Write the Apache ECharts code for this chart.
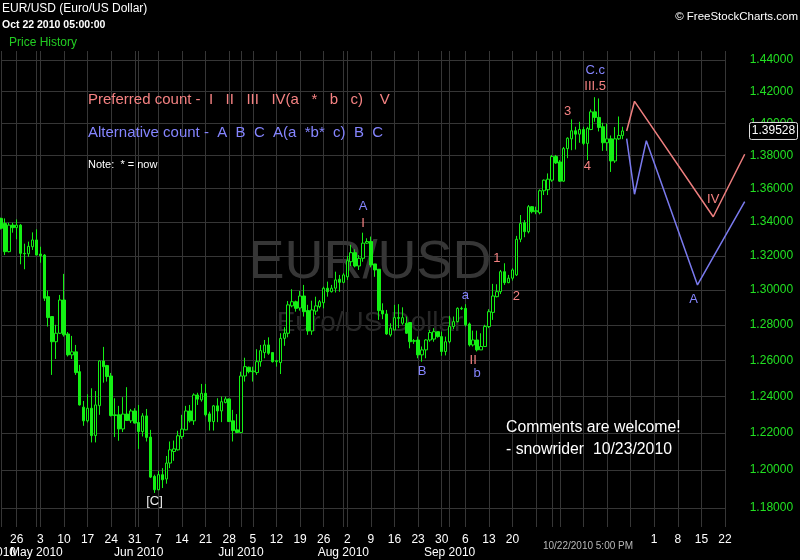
<!DOCTYPE html>
<html><head><meta charset="utf-8">
<script src="https://cdn.jsdelivr.net/npm/echarts@6/dist/echarts.min.js"></script>
<style>html,body{margin:0;padding:0;background:#000;}#c{width:800px;height:560px;}</style>
</head><body><div id="c"></div>
<script>
// ---------- data ----------
const yTicks = [1.18,1.20,1.22,1.24,1.26,1.28,1.30,1.32,1.34,1.36,1.38,1.40,1.42,1.44];
const firstDay = '2010-04-21';
const lastDay = '2010-11-28';
// daily candles (Sun-Fri sessions) from 2010-04-21: [open, close, low, high]
const ohlc = [
[1.3421,1.3362,1.3355,1.3425],[1.3391,1.3224,1.3204,1.3421],[1.3224,1.3381,1.3220,1.3395],[1.3381,1.3366,1.3336,1.3395],
[1.3366,1.3381,1.3297,1.3415],[1.3381,1.3214,1.3150,1.3387],[1.3214,1.3212,1.3121,1.3271],[1.3212,1.3255,1.3194,1.3283],
[1.3253,1.3293,1.3234,1.3338],[1.3293,1.3204,1.3204,1.3356],[1.3210,1.3200,1.3159,1.3253],[1.3204,1.2953,1.2937,1.3210],
[1.2962,1.2842,1.2791,1.2997],[1.2848,1.2705,1.2519,1.2850],[1.2705,1.2753,1.2608,1.2801],[1.2753,1.2943,1.2750,1.2972],
[1.2943,1.2744,1.2734,1.3094],[1.2749,1.2631,1.2622,1.2760],[1.2631,1.2648,1.2608,1.2738],[1.2648,1.2532,1.2519,1.2687],
[1.2537,1.2353,1.2350,1.2575],[1.2341,1.2266,1.2239,1.2375],[1.2266,1.2335,1.2257,1.2412],[1.2335,1.2186,1.2149,1.2445],
[1.2186,1.2353,1.2149,1.2430],[1.2349,1.2597,1.2299,1.2600],[1.2597,1.2565,1.2476,1.2676],[1.2571,1.2510,1.2482,1.2575],
[1.2513,1.2295,1.2290,1.2530],[1.2295,1.2299,1.2178,1.2390],[1.2299,1.2222,1.2158,1.2348],[1.2222,1.2303,1.2205,1.2396],
[1.2303,1.2268,1.2265,1.2451],[1.2266,1.2320,1.2254,1.2331],[1.2320,1.2254,1.2252,1.2335],[1.2257,1.2208,1.2114,1.2353],
[1.2208,1.2293,1.2181,1.2308],[1.2293,1.2176,1.2154,1.2331],[1.2178,1.1963,1.1958,1.2217],[1.1967,1.1896,1.1879,1.1976],
[1.1896,1.1976,1.1894,1.1997],[1.1976,1.1949,1.1905,1.2011],[1.1953,1.2038,1.1928,1.2076],[1.2038,1.2109,1.2011,1.2154],
[1.2100,1.2114,1.2050,1.2159],[1.2109,1.2185,1.2105,1.2212],[1.2181,1.2221,1.2168,1.2299],[1.2217,1.2320,1.2215,1.2348],
[1.2320,1.2266,1.2257,1.2353],[1.2266,1.2408,1.2244,1.2417],[1.2408,1.2385,1.2353,1.2420],[1.2381,1.2417,1.2371,1.2469],
[1.2417,1.2299,1.2290,1.2469],[1.2304,1.2262,1.2213,1.2316],[1.2262,1.2348,1.2213,1.2353],[1.2348,1.2320,1.2259,1.2390],
[1.2320,1.2371,1.2259,1.2399],[1.2366,1.2386,1.2362,1.2399],[1.2386,1.2262,1.2260,1.2388],[1.2266,1.2213,1.2154,1.2326],
[1.2217,1.2203,1.2199,1.2303],[1.2203,1.2513,1.2199,1.2537],[1.2513,1.2565,1.2482,1.2615],[1.2562,1.2537,1.2528,1.2565],
[1.2537,1.2541,1.2482,1.2565],[1.2532,1.2593,1.2519,1.2663],[1.2593,1.2655,1.2565,1.2687],[1.2644,1.2687,1.2612,1.2715],
[1.2687,1.2640,1.2631,1.2730],[1.2644,1.2593,1.2588,1.2646],[1.2593,1.2598,1.2565,1.2603],[1.2588,1.2724,1.2524,1.2753],
[1.2724,1.2753,1.2682,1.2787],[1.2753,1.2915,1.2730,1.2937],[1.2909,1.2933,1.2901,1.3005],[1.2933,1.2895,1.2876,1.2939],
[1.2897,1.2966,1.2882,1.2995],[1.2966,1.2876,1.2848,1.3030],[1.2882,1.2766,1.2744,1.2915],[1.2766,1.2886,1.2744,1.2939],
[1.2879,1.2909,1.2858,1.2962],[1.2905,1.2933,1.2895,1.2943],[1.2927,1.3011,1.2895,1.3020],[1.3011,1.2991,1.2962,1.3049],
[1.2991,1.3011,1.2986,1.3030],[1.3011,1.3059,1.2986,1.3107],[1.3063,1.3045,1.2991,1.3088],[1.3045,1.3088,1.3040,1.3098],
[1.3077,1.3171,1.3059,1.3199],[1.3165,1.3218,1.3140,1.3264],[1.3218,1.3140,1.3132,1.3238],[1.3140,1.3185,1.3117,1.3204],
[1.3185,1.3274,1.3165,1.3336],[1.3274,1.3284,1.3270,1.3303],[1.3284,1.3146,1.3132,1.3313],[1.3152,1.3117,1.3077,1.3152],
[1.3121,1.2882,1.2829,1.3121],[1.2882,1.2863,1.2833,1.2924],[1.2863,1.2749,1.2744,1.2886],[1.2744,1.2782,1.2734,1.2810],
[1.2772,1.2842,1.2770,1.2915],[1.2842,1.2838,1.2782,1.2919],[1.2810,1.2842,1.2801,1.2901],[1.2810,1.2753,1.2749,1.2848],
[1.2814,1.2705,1.2668,1.2814],[1.2711,1.2708,1.2693,1.2720],[1.2715,1.2631,1.2612,1.2734],[1.2631,1.2659,1.2593,1.2678],
[1.2659,1.2715,1.2612,1.2719],[1.2715,1.2757,1.2705,1.2772],[1.2720,1.2762,1.2705,1.2782],[1.2762,1.2734,1.2728,1.2762],
[1.2734,1.2650,1.2626,1.2762],[1.2650,1.2705,1.2628,1.2734],[1.2705,1.2791,1.2696,1.2852],[1.2791,1.2819,1.2777,1.2848],
[1.2819,1.2895,1.2815,1.2901],[1.2895,1.2892,1.2886,1.2905],[1.2895,1.2801,1.2791,1.2919],[1.2806,1.2687,1.2678,1.2814],
[1.2687,1.2715,1.2678,1.2768],[1.2715,1.2659,1.2650,1.2768],[1.2659,1.2678,1.2659,1.2753],[1.2678,1.2791,1.2678,1.2801],
[1.2791,1.2876,1.2782,1.2890],[1.2872,1.2966,1.2829,1.3036],[1.2962,1.2991,1.2958,1.3034],[1.2991,1.3107,1.2977,1.3117],
[1.3107,1.3043,1.3030,1.3156],[1.3043,1.3069,1.3040,1.3088],[1.3069,1.3117,1.3055,1.3127],[1.3088,1.3297,1.3082,1.3317],
[1.3297,1.3391,1.3280,1.3441],[1.3395,1.3342,1.3309,1.3411],[1.3342,1.3491,1.3332,1.3501],[1.3491,1.3461,1.3451,1.3495],
[1.3461,1.3467,1.3446,1.3491],[1.3455,1.3587,1.3445,1.3595],[1.3587,1.3651,1.3561,1.3655],[1.3593,1.3657,1.3561,1.3692],
[1.3651,1.3795,1.3641,1.3805],[1.3795,1.3756,1.3750,1.3805],[1.3762,1.3645,1.3641,1.3773],[1.3645,1.3844,1.3641,1.3854],
[1.3844,1.3908,1.3785,1.3914],[1.3904,1.3954,1.3834,1.4025],[1.3954,1.3933,1.3838,1.3979],[1.3933,1.3962,1.3880,1.4010],
[1.3962,1.3876,1.3865,1.3979],[1.3876,1.3968,1.3773,1.3979],[1.3962,1.4072,1.3958,1.4087],[1.4072,1.4037,1.4010,1.4164],
[1.4037,1.3975,1.3950,1.4156],[1.3979,1.3880,1.3830,1.4004],[1.3880,1.3904,1.3830,1.3999],[1.3904,1.3768,1.3701,1.3925],
[1.3768,1.3904,1.3756,1.3977],[1.3904,1.3925,1.3898,1.4043],[1.3925,1.3953,1.3902,1.3979]
];
const currentPrice = 1.39528;
const preferredPath = [['2010-10-24',1.3953],['2010-10-26',1.4138],['2010-11-18',1.3431],['2010-11-28',1.3809]];
const alternativePath = [['2010-10-24',1.3905],['2010-10-26',1.3566],['2010-10-29',1.3893],['2010-11-14',1.3030],['2010-11-28',1.3521]];
const SALMON = '#f58282', BLUE = '#8585ff', WHITE = '#ececec';
const waveLabels = [
  ['2010-10-14',1.4336,'C.c',BLUE],['2010-10-14',1.4235,'III.5',SALMON],['2010-10-06',1.4077,'3',SALMON],
  ['2010-10-12',1.3733,'4',SALMON],['2010-11-18',1.3537,'IV',SALMON],['2010-11-12',1.2949,'A',BLUE],
  ['2010-08-06',1.3495,'A',BLUE],['2010-08-06',1.3392,'I',SALMON],['2010-09-15',1.3187,'1',SALMON],
  ['2010-09-06',1.2968,'a',BLUE],['2010-09-21',1.2966,'2',SALMON],['2010-09-08',1.2598,'II',SALMON],
  ['2010-08-24',1.2540,'B',BLUE],['2010-09-09',1.2529,'b',BLUE],['2010-06-06',1.1833,'[C]',WHITE]
];
const MONTHS = ['Jan','Feb','Mar','Apr','May','Jun','Jul','Aug','Sep','Oct','Nov','Dec'];

// ---------- categories (every session day, Saturdays skipped) ----------
const cats = [];
for (let t = Date.parse(firstDay + 'T00:00:00Z'); t <= Date.parse(lastDay + 'T00:00:00Z'); t += 86400000) {
  const d = new Date(t);
  if (d.getUTCDay() === 6) continue;
  cats.push(d.toISOString().slice(0, 10));
}
const dow = v => new Date(v + 'T00:00:00Z').getUTCDay();
const monthStart = i => i > 0 && cats[i].slice(5, 7) !== cats[i - 1].slice(5, 7);

const FONT = '"Liberation Sans", Arial, sans-serif';
const GRID = '#363636';
const chart = echarts.init(document.getElementById('c'));

function pathData(arr) {
  return arr.map((p, i) => ({ value: p, symbol: i === arr.length - 1 ? 'none' : 'circle' }));
}

const option = {
  backgroundColor: '#000',
  animation: false,
  grid: { left: 1, top: 51, width: 743.7, height: 476, containLabel: false, outerBoundsMode: 'none' },
  xAxis: [{
    type: 'category', data: cats, boundaryGap: false,
    axisLine: { show: false }, axisTick: { show: false },
    axisLabel: {
      interval: (i, v) => dow(v) === 1 && !(v >= '2010-09-27' && v <= '2010-10-25'),
      formatter: v => String(+v.slice(8)), color: '#ffffff', fontSize: 12, fontFamily: FONT, margin: 7
    },
    splitLine: { show: true, interval: (i, v) => i === 0 || dow(v) === 1 || monthStart(i), lineStyle: { color: GRID, width: 1 } }
  }, {
    type: 'category', data: cats, boundaryGap: false, position: 'bottom', offset: 13,
    axisLine: { show: false }, axisTick: { show: false }, splitLine: { show: false },
    axisLabel: {
      interval: (i, v) => monthStart(i) && v < '2010-10-01',
      formatter: v => MONTHS[+v.slice(5, 7) - 1] + ' ' + v.slice(0, 4), color: '#ffffff', fontSize: 12, fontFamily: FONT, margin: 7
    }
  }],
  yAxis: {
    type: 'log', logBase: 10, position: 'right', min: 1.17007, max: 1.44577,
    axisLine: { show: false },
    axisTick: { show: false, customValues: yTicks },
    axisLabel: { customValues: yTicks, formatter: v => v.toFixed(5), color: '#22e022', fontSize: 12, fontFamily: FONT, margin: 5 },
    splitLine: { show: true, lineStyle: { color: GRID, width: 1 } }
  },
  series: [{
    type: 'candlestick', name: 'EUR/USD', xAxisIndex: 0, data: ohlc, barWidth: 3,
    itemStyle: { color: '#000', color0: '#14f014', borderColor: '#14f014', borderColor0: '#14f014', borderWidth: 1 },
    z: 2
  }, {
    type: 'line', name: 'Preferred', xAxisIndex: 0, data: pathData(preferredPath),
    symbolSize: 8, lineStyle: { color: '#ee7f7f', width: 1.5 },
    itemStyle: { color: '#111', borderColor: '#a0a0a0', borderWidth: 1.5 }, z: 4, clip: false
  }, {
    type: 'line', name: 'Alternative', xAxisIndex: 0, data: pathData(alternativePath),
    symbolSize: 8, lineStyle: { color: '#7a7aee', width: 1.5 },
    itemStyle: { color: '#111', borderColor: '#a0a0a0', borderWidth: 1.5 }, z: 4, clip: false
  }, {
    type: 'scatter', name: 'Waves', xAxisIndex: 0, symbolSize: 1, silent: true,
    itemStyle: { color: 'rgba(0,0,0,0)', opacity: 1 }, z: 5,
    data: waveLabels.map(w => ({ name: w[2], value: [w[0], w[1]], label: { color: w[3] } })),
    label: { show: true, position: 'inside', formatter: p => p.name, fontSize: 13, fontFamily: FONT, textBorderWidth: 0, opacity: 1 }
  }]
};
chart.setOption(option);

function txt(text, x, y, size, fill, extra) {
  return Object.assign({
    type: 'text', silent: true,
    style: { text: text, x: x, y: y, fill: fill, font: size + 'px ' + FONT, textAlign: 'left', textVerticalAlign: 'middle', align: 'left', verticalAlign: 'middle' }
  }, extra || {});
}
const tagY = chart.convertToPixel({ yAxisIndex: 0 }, currentPrice);
const graphics = [
  txt('EUR/USD', 370, 263, 54, '#363636', { z: 0 }),
  txt('Euro/US Dollar', 370, 323, 28, '#282828', { z: 0 }),
  txt('EUR/USD (Euro/US Dollar)', 2, 9, 12, '#ffffff'),
  txt('Oct 22 2010 05:00:00', 2, 25, 10.5, '#ffffff'),
  txt('Price History', 9, 43, 12, '#22cc22'),
  txt('\u00A9 FreeStockCharts.com', 798, 17, 11.5, '#ffffff'),
  txt('Preferred count -  I   II   III   IV(a   *   b   c)    V', 88, 100, 15, SALMON),
  txt('Alternative count -  A  B  C  A(a  *b*  c)  B  C', 88, 133, 15, BLUE),
  txt('Note:  * = now', 88, 165, 11, '#ffffff'),
  txt('Comments are welcome!', 506, 428, 15.8, '#ffffff'),
  txt('- snowrider  10/23/2010', 506, 450, 15.8, '#ffffff'),
  txt('Apr 2010', 16, 553, 12, '#ffffff'),
  { type: 'rect', shape: { x: 528, y: 529, width: 113, height: 31 }, style: { fill: '#000' }, z: 10 },
  txt('10/22/2010 5:00 PM', 588, 546, 10, '#b8b8b8', { z: 11 }),
  { type: 'rect', shape: { x: 749.5, y: tagY - 8.5, width: 48, height: 17, r: 2 }, style: { fill: '#000', stroke: '#e0e0e0', lineWidth: 1 }, z: 10 },
  txt(currentPrice.toFixed(5), 773.5, tagY, 12, '#ffffff', { z: 11 }),
  // hide horizontal grid lines to the right of the last week line (reference grid stops there)
  { type: 'rect', shape: { x: 726, y: 51, width: 20, height: 477 }, style: { fill: '#000' }, z: 1, silent: true }
];
graphics[0].style.textAlign = graphics[0].style.align = 'center';
graphics[1].style.textAlign = graphics[1].style.align = 'center';
graphics[3].style.font = 'bold 10.5px ' + FONT;
graphics[5].style.textAlign = graphics[5].style.align = 'right';
graphics[11].style.textAlign = graphics[11].style.align = 'right';
graphics[13].style.textAlign = graphics[13].style.align = 'center';
graphics[15].style.textAlign = graphics[15].style.align = 'center';
chart.setOption({ graphic: graphics });
</script></body></html>
